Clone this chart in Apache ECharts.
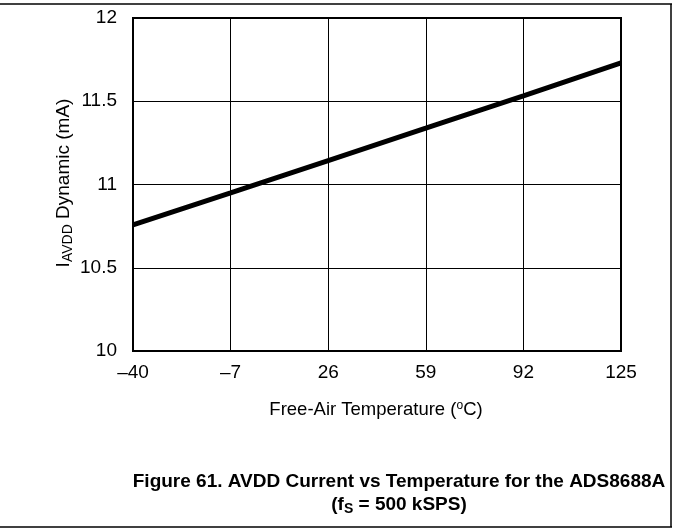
<!DOCTYPE html>
<html><head><meta charset="utf-8">
<script src="https://cdn.jsdelivr.net/npm/echarts@6/dist/echarts.min.js"></script>
<style>html,body{margin:0;padding:0;background:#fff}#c{width:674px;height:529px}</style>
</head><body><div id="c"></div>
<script>
const temps = [-40, -7, 26, 59, 92, 125];
const current = [10.757, 10.949, 11.144, 11.338, 11.533, 11.73];
const xTicks = ['–40', '–7', '26', '59', '92', '125'];
const yTicks = [10, 10.5, 11, 11.5, 12];

const chart = echarts.init(document.getElementById('c'), null, {renderer: 'canvas'});
const F = 'Liberation Sans, Arial, sans-serif';
chart.setOption({
  animation: false,
  backgroundColor: '#fff',
  grid: {left: 133, right: 53, top: 18, bottom: 178, show: false},
  xAxis: {
    type: 'value', min: -40, max: 125, interval: 33,
    axisLine: {show: false},
    axisTick: {show: false},
    splitLine: {show: true, lineStyle: {color: '#000', width: 1}},
    axisLabel: {color: '#000', fontFamily: F, fontSize: 19, margin: 12,
      formatter: v => xTicks[temps.indexOf(v)] ?? ''}
  },
  yAxis: {
    type: 'value', min: 10, max: 12, interval: 0.5,
    axisLine: {show: false},
    axisTick: {show: false},
    splitLine: {show: true, lineStyle: {color: '#000', width: 1}},
    axisLabel: {color: '#000', fontFamily: F, fontSize: 19, margin: 16,
      formatter: v => yTicks.includes(v) ? String(v) : ''}
  },
  series: [{
    type: 'line', data: temps.map((t, i) => [t, current[i]]),
    showSymbol: false, lineStyle: {color: '#000', width: 5}, z: 5
  }],
  graphic: [
    {type: 'rect', shape: {x: 133, y: 18, width: 488, height: 333}, style: {fill: 'none', stroke: '#000', lineWidth: 2}, z: 10},
    {type: 'line', shape: {x1: 0, y1: 4, x2: 672, y2: 4}, style: {stroke: '#000', lineWidth: 1.5}},
    {type: 'line', shape: {x1: 671, y1: 4, x2: 671, y2: 527}, style: {stroke: '#000', lineWidth: 1.5}},
    {type: 'line', shape: {x1: 0, y1: 527, x2: 672, y2: 527}, style: {stroke: '#000', lineWidth: 1.5}},
    {type: 'text', x: 64, y: 183, rotation: Math.PI / 2,
      style: {text: '{m|I}{s|AVDD}{m| Dynamic (mA)}', align: 'center', verticalAlign: 'middle',
        rich: {m: {fontFamily: F, fontSize: 19, fill: '#000'}, s: {fontFamily: F, fontSize: 14, fill: '#000', verticalAlign: 'bottom', padding: [8, 0, 0, 0]}}}},
    {type: 'text', x: 376, y: 410,
      style: {text: '{m|Free-Air Temperature (}{s|o}{m|C)}', align: 'center', verticalAlign: 'middle',
        rich: {m: {fontFamily: F, fontSize: 18.5, fill: '#000'}, s: {fontFamily: F, fontSize: 12, fill: '#000', padding: [0, 0, 8, 0]}}}},
    {type: 'text', x: 399, y: 482,
      style: {text: 'Figure 61. AVDD Current vs Temperature for the ADS8688A', align: 'center', verticalAlign: 'middle',
        fontFamily: F, fontSize: 19, fontWeight: 'bold', fill: '#000'}},
    {type: 'text', x: 399, y: 505,
      style: {text: '{b|(f}{s|S}{b| = 500 kSPS)}', align: 'center', verticalAlign: 'middle',
        rich: {b: {fontFamily: F, fontSize: 19, fontWeight: 'bold', fill: '#000'}, s: {fontFamily: F, fontSize: 14, fontWeight: 'bold', fill: '#000', padding: [8, 0, 0, 0]}}}}
  ]
});
</script></body></html>
